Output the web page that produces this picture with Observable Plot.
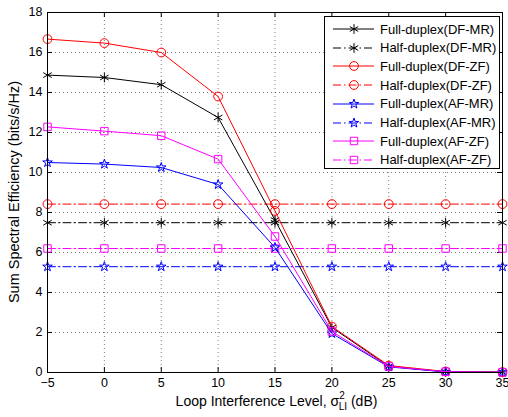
<!DOCTYPE html>
<html>
<head>
<meta charset="utf-8">
<script src="https://cdn.jsdelivr.net/npm/d3@7"></script>
<script src="https://cdn.jsdelivr.net/npm/@observablehq/plot@0.6"></script>
<style>
  html, body { margin: 0; padding: 0; background: #fff; }
  #wrap { position: relative; width: 508px; height: 417px; font-family: "Liberation Sans", Arial, sans-serif; }
  #legend { position: absolute; left: 324px; top: 16px; width: 176px; height: 153px; border: 1px solid #000; background: #fff; box-sizing: border-box; }
  .row { position: absolute; left: 0; height: 18px; display: flex; align-items: center; }
  .row span { font-size: 13px; color: #000; margin-left: 3px; white-space: nowrap; }
</style>
</head>
<body>
<div id="wrap"></div>
<script>
// ---- data ----
const xLevels = [-5, 0, 5, 10, 15, 20, 25, 30, 35];
const fdDFMR = [14.87, 14.75, 14.39, 12.75, 7.62, 2.25, 0.31, 0.03, 0.01];
const hdDFMR = [7.49, 7.49, 7.49, 7.49, 7.49, 7.49, 7.49, 7.49, 7.49];
const fdDFZF = [16.67, 16.47, 16.0, 13.8, 8.08, 2.3, 0.35, 0.05, 0.02];
const hdDFZF = [8.42, 8.42, 8.42, 8.42, 8.42, 8.42, 8.42, 8.42, 8.42];
const fdAFMR = [10.5, 10.42, 10.25, 9.4, 6.25, 1.95, 0.28, 0.03, 0.01];
const hdAFMR = [5.29, 5.29, 5.29, 5.29, 5.29, 5.29, 5.29, 5.29, 5.29];
const fdAFZF = [12.28, 12.07, 11.84, 10.67, 6.8, 2.05, 0.3, 0.04, 0.01];
const hdAFZF = [6.2, 6.2, 6.2, 6.2, 6.2, 6.2, 6.2, 6.2, 6.2];
const seriesNames = ["Full-duplex(DF-MR)", "Half-duplex(DF-MR)", "Full-duplex(DF-ZF)", "Half-duplex(DF-ZF)",
                     "Full-duplex(AF-MR)", "Half-duplex(AF-MR)", "Full-duplex(AF-ZF)", "Half-duplex(AF-ZF)"];
const xTicks = [-5, 0, 5, 10, 15, 20, 25, 30, 35];
const yTicks = [0, 2, 4, 6, 8, 10, 12, 14, 16, 18];
const yLabel = "Sum Spectral Efficiency (bits/s/Hz)";

// ---- styles ----
const seriesValues = [fdDFMR, hdDFMR, fdDFZF, hdDFZF, fdAFMR, hdAFMR, fdAFZF, hdAFZF];
const colors = ["#000000", "#000000", "#ff0000", "#ff0000", "#0000ff", "#0000ff", "#ff00ff", "#ff00ff"];
const symbols = ["asterisk", "asterisk", "circle", "circle", "star", "star", "square", "square"];
const radii = {asterisk: 4.6, circle: 4.4, star: 3.0, square: 4.2};
const dash = "8,3,1.5,3";

const series = seriesNames.map((name, i) => ({
  name, color: colors[i], symbol: symbols[i], dashed: name.startsWith("Half"),
  data: xLevels.map((x, j) => ({x, y: seriesValues[i][j], name}))
}));

const W = 508, H = 417, mL = 47, mR = 6, mT = 12, mB = 45;
const pw = W - mL - mR, ph = H - mT - mB;
const font = "Liberation Sans, Arial, sans-serif";

const marks = [
  Plot.gridX(xTicks, {stroke: "#000", strokeOpacity: 0.5, strokeDasharray: "1,3"}),
  Plot.gridY(yTicks, {stroke: "#000", strokeOpacity: 0.5, strokeDasharray: "1,3"}),
  Plot.axisX(xTicks, {tickSize: 0, tickPadding: 6, fontSize: 12.5, label: null}),
  Plot.axisY(yTicks, {tickSize: 0, tickPadding: 5, fontSize: 12.5, label: null, dy: -1}),
  // inward ticks on all four sides
  Plot.tickX(xTicks, {x: d => d, insetTop: ph - 5, stroke: "#000"}),
  Plot.tickX(xTicks, {x: d => d, insetBottom: ph - 5, stroke: "#000"}),
  Plot.tickY(yTicks, {y: d => d, insetRight: pw - 5, stroke: "#000"}),
  Plot.tickY(yTicks, {y: d => d, insetLeft: pw - 5, stroke: "#000"}),
];
const order = [1, 3, 5, 7, 0, 2, 4, 6];
for (const i of order) {
  const s = series[i];
  marks.push(Plot.line(s.data, {x: "x", y: "y", stroke: s.color, strokeWidth: 1, strokeDasharray: s.dashed ? dash : null}));
  marks.push(Plot.dot(s.data, {x: "x", y: "y", stroke: s.color, fill: "none", symbol: s.symbol, r: radii[s.symbol], strokeWidth: 1}));
}
marks.push(Plot.frame({stroke: "#000", strokeWidth: 1}));

const chart = Plot.plot({
  width: W, height: H,
  marginLeft: mL, marginRight: mR, marginTop: mT, marginBottom: mB,
  style: {fontFamily: font, fontSize: "12.5px", color: "#000", background: "#fff"},
  x: {domain: [-5, 35]},
  y: {domain: [0, 18]},
  marks
});
const wrap = document.getElementById("wrap");
wrap.appendChild(chart);

const svg = d3.select(chart);
// y label
svg.append("text")
  .attr("transform", `translate(19,${mT + ph / 2}) rotate(-90)`)
  .attr("text-anchor", "middle")
  .attr("font-family", font).attr("font-size", 14.5).attr("fill", "#000")
  .text(yLabel);
// x label with superscript / subscript
const lab = svg.append("text")
  .attr("x", mL + pw / 2 + 2).attr("y", 406)
  .attr("text-anchor", "middle")
  .attr("font-family", font).attr("font-size", 14).attr("fill", "#000");
lab.append("tspan").text("Loop Interference Level, σ");
lab.append("tspan").attr("font-size", 10).attr("dy", -7).text("2");
lab.append("tspan").attr("font-size", 10).attr("dx", -6).attr("dy", 11).text("LI");
lab.append("tspan").attr("dy", -4).text(" (dB)");

// legend
const legend = document.createElement("div");
legend.id = "legend";
wrap.appendChild(legend);
series.forEach((s, i) => {
  const row = document.createElement("div");
  row.className = "row";
  row.style.top = (3 + i * 18.7) + "px";
  const ns = "http://www.w3.org/2000/svg";
  const sv = document.createElementNS(ns, "svg");
  sv.setAttribute("width", 52); sv.setAttribute("height", 18);
  const ln = document.createElementNS(ns, "line");
  ln.setAttribute("x1", 8); ln.setAttribute("x2", 49); ln.setAttribute("y1", 9); ln.setAttribute("y2", 9);
  ln.setAttribute("stroke", s.color); ln.setAttribute("stroke-width", 1);
  if (s.dashed) ln.setAttribute("stroke-dasharray", dash);
  sv.appendChild(ln);
  const symMap = {asterisk: d3.symbolAsterisk, circle: d3.symbolCircle, star: d3.symbolStar, square: d3.symbolSquare};
  const r = radii[s.symbol];
  const p = document.createElementNS(ns, "path");
  p.setAttribute("d", d3.symbol(symMap[s.symbol], Math.PI * r * r)());
  p.setAttribute("transform", "translate(29,9)");
  p.setAttribute("fill", "none"); p.setAttribute("stroke", s.color);
  sv.appendChild(p);
  row.appendChild(sv);
  const t = document.createElement("span");
  t.textContent = s.name;
  row.appendChild(t);
  legend.appendChild(row);
});
</script>
</body>
</html>
